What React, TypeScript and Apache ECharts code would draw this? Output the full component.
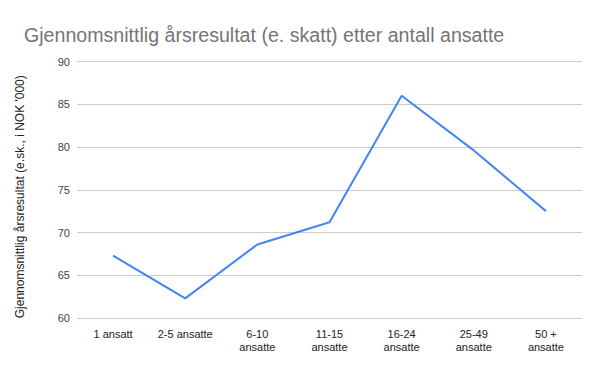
import React, { useEffect, useRef } from "react";
import * as echarts from "echarts";

const categories = ["1 ansatt", "2-5 ansatte", "6-10\nansatte", "11-15\nansatte", "16-24\nansatte", "25-49\nansatte", "50 +\nansatte"];
const values = [67.3, 62.3, 68.6, 71.2, 86.0, 79.6, 72.5];
const titleText = "Gjennomsnittlig årsresultat (e. skatt) etter antall ansatte";
const yAxisName = "Gjennomsnittlig årsresultat (e.sk., i NOK '000)";

const FONT = "'Liberation Sans', Arial, sans-serif";

export default function App() {
  const ref = useRef<HTMLDivElement>(null);
  useEffect(() => {
    if (!ref.current) return;
    const chart = echarts.init(ref.current, undefined, { renderer: "svg" });
    chart.setOption({
      animation: false,
      backgroundColor: "#ffffff",
      title: {
        text: titleText,
        left: 19,
        top: 20,
        textStyle: { fontFamily: FONT, fontSize: 19.6, fontWeight: "normal", color: "#757575" },
      },
      grid: { left: 77, right: 18, top: 61.5, bottom: 53 },
      xAxis: {
        type: "category",
        data: categories,
        boundaryGap: true,
        axisLine: { show: false },
        axisTick: { show: false },
        axisLabel: {
          fontFamily: FONT,
          fontSize: 11,
          color: "#222222",
          margin: 9,
          lineHeight: 13,
          interval: 0,
        },
      },
      yAxis: {
        type: "value",
        min: 60,
        max: 90,
        interval: 5,
        name: yAxisName,
        nameLocation: "middle",
        nameGap: 51,
        nameRotate: 90,
        nameTextStyle: { fontFamily: FONT, fontSize: 12, color: "#222222", padding: [0, 14, 0, 0] },
        axisLine: { show: false },
        axisTick: { show: false },
        splitLine: { lineStyle: { color: "#cccccc", width: 1 } },
        axisLabel: { fontFamily: FONT, fontSize: 11, color: "#444444", margin: 7 },
      },
      series: [
        {
          type: "line",
          data: values,
          showSymbol: false,
          symbol: "none",
          lineStyle: { color: "#4285F4", width: 2 },
          itemStyle: { color: "#4285F4" },
        },
      ],
    });
    return () => chart.dispose();
  }, []);
  return <div ref={ref} style={{ position: "fixed", left: 0, top: 0, width: 600, height: 371 }} />;
}
